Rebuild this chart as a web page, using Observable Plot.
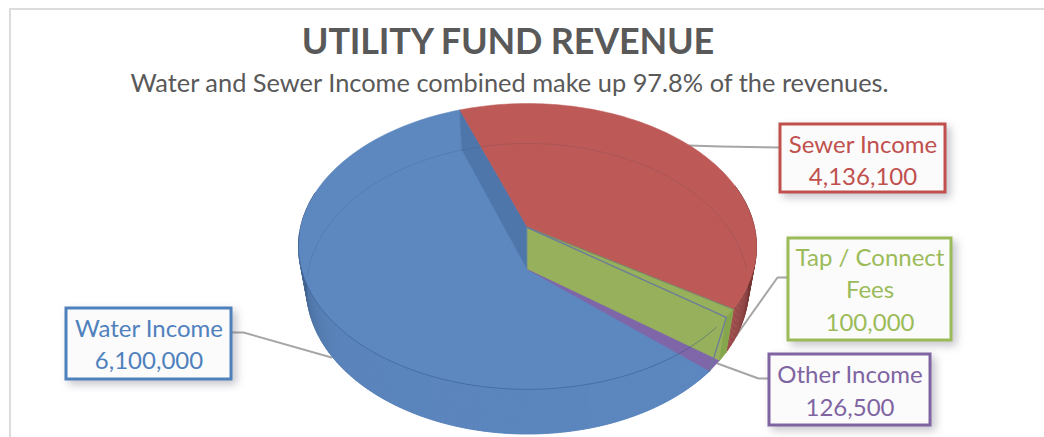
<!DOCTYPE html>
<html>
<head>
<meta charset="utf-8">
<script src="https://cdn.jsdelivr.net/npm/d3@7"></script>
<script src="https://cdn.jsdelivr.net/npm/@observablehq/plot@0.6"></script>
<style>
  html, body { margin: 0; padding: 0; background: #fff; }
  #page { position: relative; width: 1044px; height: 437px; overflow: hidden; font-family: Lato, sans-serif; }
  #frame { position: absolute; left: 9px; top: 8px; width: 1040px; height: 440px; border-left: 2px solid #dcdcdc; border-top: 2px solid #dcdcdc; }
  #head { position: relative; height: 98px; text-align: center; color: #595959; }
  #head .t { position: absolute; left: 0; width: 1016px; top: 17px; font-size: 36px; line-height: 46px; font-weight: 700; letter-spacing: -0.2px; }
  #head .s { position: absolute; left: 0; width: 1019px; top: 67px; font-size: 25.4px; line-height: 30px; font-weight: 400; }
  #chart { position: relative; height: 339px; }
  #chart svg { display: block; background: transparent; }
</style>
</head>
<body>
<div id="page">
  <div id="frame"></div>
  <div id="head">
    <div class="t">UTILITY FUND REVENUE</div>
    <div class="s">Water and Sewer Income combined make up 97.8% of the revenues.</div>
  </div>
  <div id="chart"></div>
</div>
<script>
// ---- data ----
const categories = ["Water Income", "Sewer Income", "Tap / Connect Fees", "Other Income"];
const revenues = [6100000, 4136100, 100000, 126500];
const labelLines = [["Water Income"], ["Sewer Income"], ["Tap / Connect", "Fees"], ["Other Income"]];

// ---- styles and layout (page pixels) ----
const surface = { blue: "#5c87bf", red: "#bd5a58", green: "#97b05b", purple: "#7f66a9" };
const ink = ["#4f81bd", "#c0504d", "#9bbb59", "#8064a2"];
const topDisk = { cx: 527, cy: 227, ax: 227, ay: 140.4 };
const baseDisk = { cx: 527, cy: 269, ax: 219, ay: 142.7 };
const perspective = 0.1325;
const boxes = [
  { x1: 66, x2: 231, y1: 308, y2: 379, ty: 342 },
  { x1: 780, x2: 945, y1: 124, y2: 192, ty: 158 },
  { x1: 788, x2: 951, y1: 238, y2: 340, ty: 287.5 },
  { x1: 769, x2: 930, y1: 354, y2: 425, ty: 388.5 }
];
const leaders = [
  [[232, 332], [243, 332], [331, 357]],
  [[688, 145], [720, 146], [780, 147]],
  [[787, 277], [777, 277], [723, 353]],
  [[768, 378], [758, 378], [717, 363]]
];

// ---- geometry derived from the values ----
const deg = Math.PI / 180;
const slices = d3.pie().sort(null).startAngle(130.5 * deg).endAngle((130.5 + 360) * deg)(revenues);
const bound = slices.map(s => [s.startAngle / deg, s.endAngle / deg]);
const [waterA, sewerA, tapA, otherA] = bound;

function rim(disk, a, r = 1) {
  const u = r * Math.sin(a * deg), v = r * Math.cos(a * deg), w = 1 + perspective * v;
  return { x: disk.cx + disk.ax * u / w, y: disk.cy - disk.ay * v / w };
}
const apex = disk => ({ x: disk.cx, y: disk.cy });
const arc = (disk, a0, a1) => d3.range(0, 121).map(i => rim(disk, a0 + (a1 - a0) * i / 120));
const poly = (points, fill) => Plot.line(points, { x: "x", y: "y", fill, stroke: fill, strokeWidth: 0.5, curve: "linear-closed" });
const stroke = (points, color, width, opacity = 1) => Plot.line(points, { x: "x", y: "y", stroke: color, strokeWidth: width, strokeOpacity: opacity });

// side wall shading, one narrow band per step of angle
function wallBands(a0, a1, colorAt) {
  const bands = [];
  const n = Math.ceil(Math.abs(a1 - a0));
  for (let i = 0; i < n; i++) {
    const p = a0 + (a1 - a0) * i / n, q = a0 + (a1 - a0) * (i + 1) / n, t = (i + 0.5) / n;
    const c = colorAt(t);
    for (const pt of [rim(topDisk, p), rim(topDisk, q), rim(baseDisk, q), rim(baseDisk, p)]) bands.push({ ...pt, id: i, c });
  }
  return Plot.line(bands, { x: "x", y: "y", z: "id", fill: "c", stroke: "c", strokeWidth: 0.6, curve: "linear-closed" });
}
const blueWall = t => t < 0.62
  ? d3.interpolateRgb("#5c87bf", "#5a84bb")(t / 0.62)
  : d3.interpolateRgb("#5a84bb", "#26354f")(Math.pow((t - 0.62) / 0.38, 1.7));
const redWall = t => d3.interpolateRgb("#a04c4b", "#4a2020")(Math.pow(t, 0.9));

const leaderRows = leaders.flatMap((l, id) => l.map(([x, y]) => ({ x, y, id })));
const boxRows = boxes.map((b, i) => ({ ...b, ink: ink[i] }));
const textRows = boxes.map((b, i) => ({
  x: (b.x1 + b.x2) / 2, y: b.ty, ink: ink[i],
  text: [...labelLines[i], d3.format(",")(revenues[i])].join("\n")
}));

const plot = Plot.plot({
  width: 1044, height: 339, margin: 0,
  x: { type: "linear", domain: [0, 1044], range: [0, 1044], axis: null },
  y: { type: "linear", domain: [98, 437], range: [0, 339], axis: null },
  color: { type: "identity" },
  style: { fontFamily: "Lato, sans-serif", overflow: "visible" },
  marks: [
    // leader lines sit behind the pie
    Plot.line(leaderRows, { x: "x", y: "y", z: "id", stroke: "#a6a6a6", strokeWidth: 2 }),
    // water: base sector, wall, upper surface
    poly([apex(baseDisk), ...arc(baseDisk, waterA[0], waterA[1])], surface.blue),
    wallBands(waterA[0], 285, blueWall),
    poly([apex(baseDisk), ...arc(topDisk, waterA[0], waterA[1]), apex(topDisk)], surface.blue),
    poly([rim(topDisk, waterA[1]), apex(topDisk), apex(baseDisk), rim(baseDisk, waterA[1])], "#4f76ab"),
    // sewer: wall then surface
    wallBands(sewerA[1] - 360, 72, redWall),
    poly([apex(topDisk), ...arc(topDisk, sewerA[0], sewerA[1])], surface.red),
    // tap face, its rim wall, and the wedge of other income on the base
    poly([apex(topDisk), rim(topDisk, sewerA[1]), rim(baseDisk, sewerA[1]), rim(baseDisk, tapA[1]), apex(baseDisk)], surface.green),
    poly([rim(topDisk, sewerA[1]), rim(topDisk, tapA[1]), rim(baseDisk, tapA[1]), rim(baseDisk, sewerA[1])], "#86a64d"),
    poly([apex(baseDisk), rim(baseDisk, tapA[1]), rim(baseDisk, otherA[1])], surface.purple),
    // faint rim lines and wedge edges
    stroke(arc(topDisk, waterA[0], 268), "#2f5283", 1, 0.45),
    stroke(arc(baseDisk, 268, 360 + 90), "#3a3a50", 1, 0.14),
    stroke([apex(topDisk), rim(topDisk, tapA[0])], "#6f7f6a", 1, 0.9),
    stroke([apex(topDisk), rim(topDisk, tapA[1]), rim(baseDisk, otherA[1])], "#6a7a9a", 1.4, 0.95),
    // label boxes
    Plot.rect(boxRows, { x1: "x1", x2: "x2", y1: "y1", y2: "y2", fill: "#fbfbfc", stroke: "ink", strokeWidth: 3, imageFilter: "drop-shadow(4px 4px 4px rgba(90,90,110,0.35))" }),
    Plot.text(textRows, { x: "x", y: "y", text: "text", fill: "ink", fontSize: 24, lineHeight: 1.36, textAnchor: "middle", fontFamily: "Lato, sans-serif" })
  ]
});
document.getElementById("chart").appendChild(plot);
</script>
</body>
</html>
